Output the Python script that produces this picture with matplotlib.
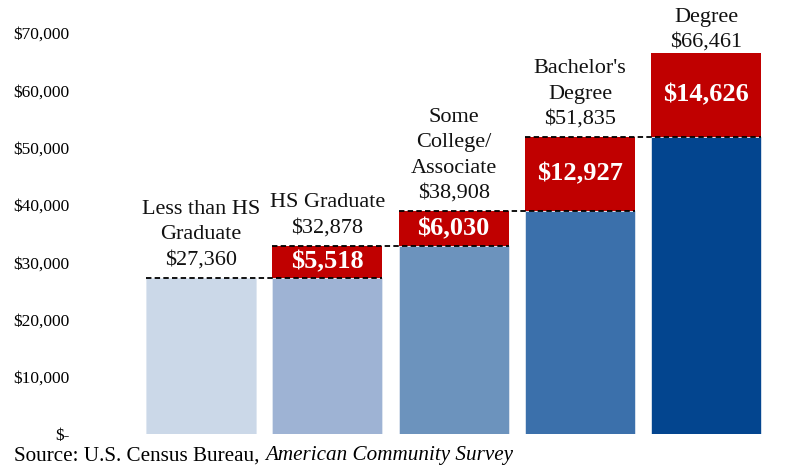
import matplotlib
matplotlib.use("Agg")
import matplotlib.pyplot as plt
import numpy as np

# Data
categories = ["Less than HS\nGraduate", "HS Graduate", "Some\nCollege/\nAssociate",
              "Bachelor's\nDegree", "Degree"]
totals = [27360, 32878, 38908, 51835, 66461]
increments = [0, 5518, 6030, 12927, 14626]
yticks = [0, 10000, 20000, 30000, 40000, 50000, 60000, 70000]
ytick_labels = ["$-", "$10,000", "$20,000", "$30,000", "$40,000", "$50,000", "$60,000", "$70,000"]

blue_colors = ["#CBD8E8", "#9EB3D4", "#6C93BD", "#3B70AB", "#03458F"]
red = "#C00000"

plt.rcParams['font.family'] = ['Liberation Serif', 'DejaVu Serif']

fig = plt.figure(figsize=(7.96, 4.68), dpi=100)
ax = fig.add_axes([0.1731, 0.0716, 0.7936, 0.858])

x = np.arange(len(categories))
tot = np.array(totals)
inc = np.array(increments)
base = tot - inc
width = 0.87

ax.bar(x, base, width=width, color=blue_colors, edgecolor="#dfe7f1", linewidth=0.6, zorder=2)
ax.bar(x, inc, bottom=base, width=width, color=red, linewidth=0, zorder=2)

# dashed level lines
for i in range(len(x) - 1):
    ax.plot([x[i] - width / 2, x[i + 1] + width / 2], [tot[i], tot[i]],
            color="black", linestyle=(0, (3, 1.8)), linewidth=1.3, zorder=3)

# labels above bars (last one squeezed toward the bar, as in the original)
for i in range(len(x)):
    off = 6 if i < len(x) - 1 else 1
    ax.annotate(f"{categories[i]}\n${tot[i]:,}", xy=(x[i], tot[i]), xytext=(0, off),
                textcoords="offset points", ha="center", va="bottom", fontsize=16,
                linespacing=1.45, annotation_clip=False, clip_on=False, color="#111111")

# increment labels
for i in range(len(x)):
    if inc[i] > 0:
        ax.text(x[i], base[i] + inc[i] / 2, f"${inc[i]:,}", ha="center", va="center",
                color="white", fontsize=19, fontweight="bold", zorder=4)

ax.set_xlim(-0.5, len(x) - 0.5)
ax.set_ylim(0, 70000)
ax.set_yticks(yticks)
ax.set_yticklabels(ytick_labels, fontsize=12.5)
ax.tick_params(axis="y", length=0, pad=49)
ax.set_xticks([])
for s in ax.spines.values():
    s.set_visible(False)

t1 = fig.text(0.018, 0.006, "Source: U.S. Census Bureau, ", fontsize=15.2, ha="left", va="bottom")
fig.canvas.draw()
ax.annotate("American Community Survey", xy=(1, 0), xycoords=t1, va="bottom", ha="left",
            fontsize=15.2, style="italic", annotation_clip=False)

fig.savefig("out.png", dpi=100)
